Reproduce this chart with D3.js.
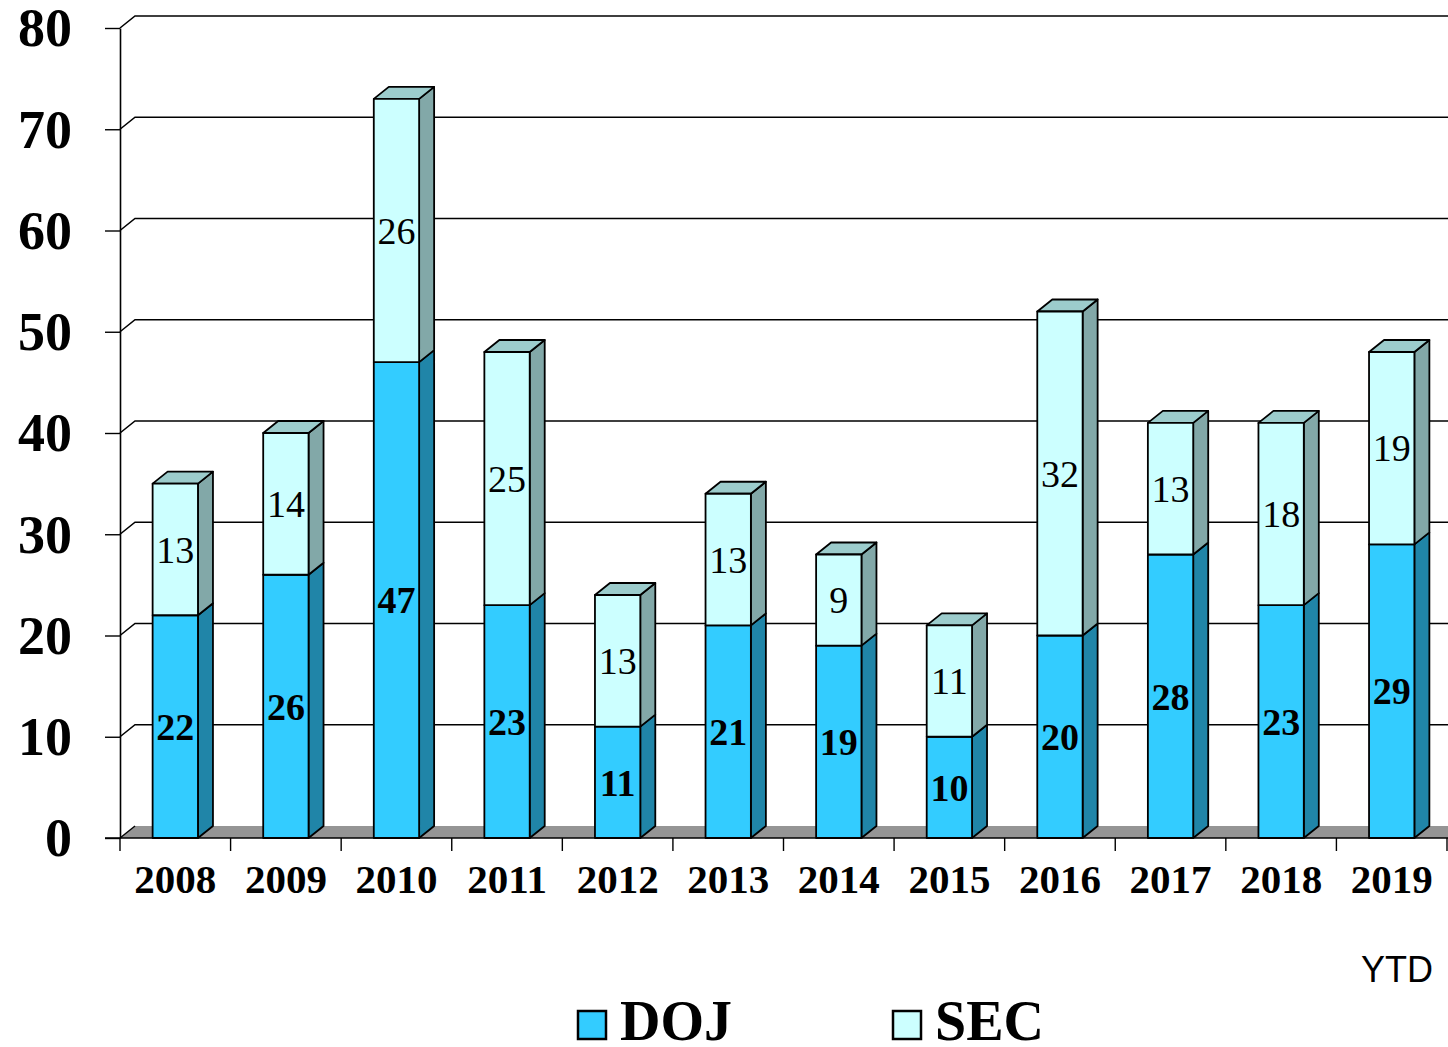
<!DOCTYPE html>
<html><head><meta charset="utf-8">
<script src="https://cdn.jsdelivr.net/npm/d3@7"></script>
<style>body{margin:0;background:#fff}svg{display:block}</style>
</head><body>
<svg id="c" width="1448" height="1047"></svg>
<script>
const years = ["2008","2009","2010","2011","2012","2013","2014","2015","2016","2017","2018","2019"];
const doj = [22,26,47,23,11,21,19,10,20,28,23,29];
const sec = [13,14,26,25,13,13,9,11,32,13,18,19];
const yTicks = [0,10,20,30,40,50,60,70,80];
const seriesNames = ["DOJ","SEC"];

const svg = d3.select("#c");
const left = 120, right = 1447, y0 = 838, yTop = 28;
const dx = 15, dy = 12;
const serif = "'Liberation Serif','Times New Roman',serif";

const x = d3.scaleBand().domain(years).range([left, right]).padding(0);
const y = d3.scaleLinear().domain([0, 80]).range([y0, yTop]);
const bw = x.bandwidth() * 0.41;

// gridlines (back wall)
svg.append("g").selectAll("path").data(yTicks.filter(d => d > 0)).join("path")
  .attr("d", d => `M${left},${y(d)}L${left+dx},${y(d)-dy}L1448,${y(d)-dy}`)
  .attr("fill","none").attr("stroke","#000").attr("stroke-width",1.6);

// floor
svg.append("path")
  .attr("d", `M${left},${y0}L${left+dx},${y0-dy}L1448,${y0-dy}L1448,${y0}Z`)
  .attr("fill","#959595").attr("stroke","none");
svg.append("path").attr("d", `M${left},${y0}L${left+dx},${y0-dy}`).attr("stroke","#000").attr("stroke-width",1.4);

// y axis
const yAxis = svg.append("g").attr("transform", `translate(${left},0)`)
  .call(d3.axisLeft(y).tickValues(yTicks).tickSize(15).tickPadding(33).tickSizeOuter(0));
yAxis.select(".domain").attr("stroke","#000").attr("stroke-width",1.6);
yAxis.selectAll(".tick line").attr("stroke","#000").attr("stroke-width",1.4);
yAxis.selectAll(".tick text").attr("font-family", serif).attr("font-weight","bold")
  .attr("font-size", 54).attr("fill","#000").attr("dy","0.33em");

// x axis
const xAxis = svg.append("g").attr("transform", `translate(0,${y0})`)
  .call(d3.axisBottom(x).tickSize(0).tickPadding(30).tickSizeOuter(0));
xAxis.select(".domain").remove();
xAxis.selectAll(".tick text").attr("font-family", serif).attr("font-weight","bold")
  .attr("font-size", 41).attr("fill","#000").attr("dy","0.62em");
const edges = years.map(d => x(d)).concat([right]);
svg.append("g").selectAll("line").data(edges).join("line")
  .attr("x1", d => d).attr("x2", d => d).attr("y1", y0).attr("y2", y0 + 13)
  .attr("stroke","#000").attr("stroke-width",1.4);
svg.append("line").attr("x1", 105).attr("x2", 1448).attr("y1", y0).attr("y2", y0)
  .attr("stroke","#000").attr("stroke-width",1.6);

// bars
const colors = {
  DOJ: {front:"#33CCFF", side:"#2085A8", top:"#2AA8D2"},
  SEC: {front:"#CCFFFF", side:"#82A8A8", top:"#9CCCCC"}
};
const stacks = years.map((yr, i) => ({yr, segs:[
  {name:"DOJ", v0:0, v1:doj[i], v:doj[i]},
  {name:"SEC", v0:doj[i], v1:doj[i]+sec[i], v:sec[i]}
]}));
const bars = svg.append("g");
stacks.forEach(s => {
  const cx = x(s.yr) + x.bandwidth()/2;
  const xl = cx - bw/2, xr = cx + bw/2;
  s.segs.forEach((seg, j) => {
    const yb = y(seg.v0), yt = y(seg.v1);
    const c = colors[seg.name];
    const g = bars.append("g").attr("stroke","#000").attr("stroke-width",1.8).attr("stroke-linejoin","round");
    g.append("path").attr("d", `M${xr},${yb}L${xr+dx},${yb-dy}L${xr+dx},${yt-dy}L${xr},${yt}Z`).attr("fill", c.side);
    if (j === s.segs.length - 1)
      g.append("path").attr("d", `M${xl},${yt}L${xl+dx},${yt-dy}L${xr+dx},${yt-dy}L${xr},${yt}Z`).attr("fill", c.top);
    g.append("rect").attr("x", xl).attr("y", yt).attr("width", bw).attr("height", yb - yt).attr("fill", c.front);
  });
});
// labels
stacks.forEach(s => {
  const cx = x(s.yr) + x.bandwidth()/2;
  s.segs.forEach(seg => {
    svg.append("text").attr("x", cx).attr("y", y((seg.v0+seg.v1)/2))
      .attr("text-anchor","middle").attr("dy","0.35em")
      .attr("font-family", serif).attr("font-size", 38)
      .attr("font-weight", seg.name === "DOJ" ? "bold" : "normal")
      .attr("fill","#000").text(seg.v);
  });
});

// YTD
svg.append("text").attr("x", 1433).attr("y", 982).attr("text-anchor","end")
  .attr("font-family","'Liberation Sans',Arial,sans-serif").attr("font-size", 36).attr("fill","#000").text("YTD");

// legend
const legX = [578, 893];
seriesNames.forEach((n, i) => {
  svg.append("rect").attr("x", legX[i]).attr("y", 1011).attr("width", 28).attr("height", 28)
    .attr("fill", colors[n].front).attr("stroke","#000").attr("stroke-width",2.5);
  svg.append("text").attr("x", legX[i] + 42).attr("y", 1040)
    .attr("font-family", serif).attr("font-weight","bold").attr("font-size", 56).attr("fill","#000").text(n);
});
</script>
</body></html>
